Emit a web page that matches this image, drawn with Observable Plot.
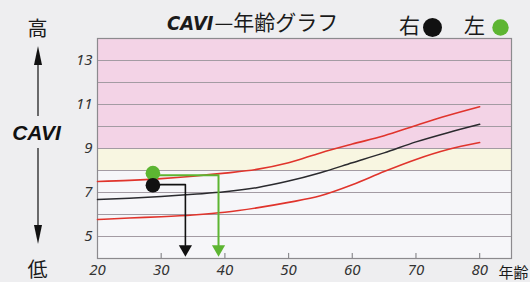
<!DOCTYPE html>
<html><head><meta charset="utf-8">
<script src="https://cdn.jsdelivr.net/npm/d3@7"></script>
<script src="https://cdn.jsdelivr.net/npm/@observablehq/plot@0.6"></script>
<style>
html,body{margin:0;padding:0;background:#eeeef0;}
#chart svg{display:block;}
#chart svg [aria-label="x-axis tick label"] text,
#chart svg [aria-label="y-axis tick label"] text{font-style:italic;}
</style></head><body><div id="chart"></div>
<script>
// ---- data ----
const ages = [20, 25, 30, 35, 40, 45, 50, 55, 60, 65, 70, 75, 80];
const upperValues = [7.5, 7.55, 7.63, 7.74, 7.88, 8.05, 8.35, 8.8, 9.2, 9.58, 10.05, 10.5, 10.9];
const meanValues  = [6.68, 6.74, 6.82, 6.92, 7.03, 7.22, 7.52, 7.9, 8.35, 8.8, 9.3, 9.72, 10.1];
const lowerValues = [5.77, 5.84, 5.9, 5.98, 6.1, 6.3, 6.55, 6.85, 7.35, 7.95, 8.5, 8.95, 9.27];

const xTicks = [20, 30, 40, 50, 60, 70, 80];
const yTicks = [5, 7, 9, 11, 13];
const gridValues = [5, 6, 7, 8, 9, 10, 11, 12, 13];

const bandLow = [9, 8, 4];
const bandHigh = [14, 9, 8];
const bandColors = ["#f3d3e6", "#f8f6e1", "#f6f6f9"];

const sides = ["右", "左"];
const sideColors = ["#111111", "#5db532"];
const patientAge = [28.7, 28.7];
const patientCAVI = [7.33, 7.88];
const readCAVI = [7.36, 7.78];
const readAge = [33.8, 39.0];

// ---- derived tables ----
const yMin = 4, yMax = 14;
const bands = bandLow.map((lo, i) => ({lo, hi: bandHigh[i], color: bandColors[i]}));
const curve = vals => ages.map((a, i) => ({age: a, v: vals[i]}));
const patients = sides.map((s, i) => ({side: s, color: sideColors[i], age: patientAge[i], v: patientCAVI[i]}));
const leaders = sides.map((s, i) => [
  {age: patientAge[i], v: readCAVI[i]},
  {age: readAge[i], v: readCAVI[i]},
  {age: readAge[i], v: yMin + 0.6}
]);
const heads = sides.map((s, i) => ({age: readAge[i], v: yMin + 0.43, color: sideColors[i]}));

const L = 97, T = 38;
const jp = "'Noto Sans CJK JP', 'Noto Sans', sans-serif";
const num = "'Noto Sans', 'Open Sans', sans-serif";

function leftArrows() {
  const g = d3.create("svg:g");
  g.append("line").attr("x1", 38).attr("x2", 38).attr("y1", 62).attr("y2", 116)
    .attr("stroke", "#111").attr("stroke-width", 1.2);
  g.append("path").attr("d", "M38,46 L34,65 L42,65 Z").attr("fill", "#111");
  g.append("line").attr("x1", 38).attr("x2", 38).attr("y1", 148).attr("y2", 228)
    .attr("stroke", "#111").attr("stroke-width", 1.2);
  g.append("path").attr("d", "M38,244 L34,225 L42,225 Z").attr("fill", "#111");
  return g.node();
}

const label = (str, x, y, opts) => Plot.text([str], Object.assign({
  text: d => d, frameAnchor: "top-left", lineAnchor: "middle", textAnchor: "middle",
  dx: x - L, dy: y - T, fill: "#1a1a1a", fontFamily: jp, fontSize: 20
}, opts));

const chart = Plot.plot({
  width: 530,
  height: 282,
  marginLeft: 97,
  marginRight: 19,
  marginTop: 38,
  marginBottom: 24,
  style: {background: "#eeeef0", overflow: "visible"},
  x: {domain: [20, 85]},
  y: {domain: [yMin, yMax]},
  marks: [
    Plot.rect(bands, {y1: "lo", y2: "hi", fill: "color"}),
    Plot.ruleY(gridValues, {stroke: "#a39ba3", strokeWidth: 1.2}),
    Plot.ruleX(xTicks.slice(1), {y1: yMin, y2: yMin + 0.23, stroke: "#8c8c90", strokeWidth: 1.2}),
    Plot.frame({stroke: "#8c8a8e", strokeWidth: 1.2}),
    Plot.line(curve(upperValues), {x: "age", y: "v", stroke: "#e0342c", strokeWidth: 1.6, curve: "monotone-x"}),
    Plot.line(curve(lowerValues), {x: "age", y: "v", stroke: "#e0342c", strokeWidth: 1.6, curve: "monotone-x"}),
    Plot.line(curve(meanValues), {x: "age", y: "v", stroke: "#2a2a2e", strokeWidth: 1.5, curve: "monotone-x"}),
    Plot.line(leaders[1], {x: "age", y: "v", stroke: sideColors[1], strokeWidth: 2}),
    Plot.line(leaders[0], {x: "age", y: "v", stroke: sideColors[0], strokeWidth: 1.6}),
    Plot.dot(heads, {x: "age", y: "v", symbol: "triangle", rotate: 180, r: 4.9, fill: "color", stroke: "none"}),
    Plot.dot([patients[1], patients[0]], {x: "age", y: "v", r: 7.3, fill: "color", stroke: "none"}),
    Plot.axisX(xTicks, {tickSize: 0, tickPadding: 6, fontSize: 15, fill: "#333", fontFamily: num, label: null}),
    Plot.axisY(yTicks, {tickSize: 0, tickPadding: 5, fontSize: 15, fill: "#333", fontFamily: num, label: null}),
    label("年齢", 498, 273, {textAnchor: "start", fontSize: 15}),
    // title
    label("CAVI", 213, 23, {textAnchor: "end", fontSize: 20, fontWeight: "bold", fontStyle: "italic", fontFamily: "'Liberation Sans Narrow', 'DejaVu Sans Condensed', 'Liberation Sans', sans-serif"}),
    label("—年齢グラフ", 214, 23, {textAnchor: "start", fontSize: 21}),
    // legend
    label(sides[0], 409, 26, {fontSize: 21}),
    label(sides[1], 474, 26, {fontSize: 21}),
    Plot.dot([sideColors[0]], {frameAnchor: "top-left", dx: 432 - L, dy: 27 - T, r: 9.5, fill: d => d, stroke: "none"}),
    Plot.dot([sideColors[1]], {frameAnchor: "top-left", dx: 500 - L, dy: 27 - T, r: 8.2, fill: d => d, stroke: "none"}),
    // left annotation
    label("高", 37, 29, {fontSize: 20}),
    label("CAVI", 36, 133, {fontSize: 21, fontWeight: "bold", fontStyle: "italic", fill: "#111", fontFamily: "'Liberation Sans', sans-serif"}),
    label("低", 37, 270, {fontSize: 20}),
    leftArrows
  ]
});
document.getElementById("chart").appendChild(chart);
</script></body></html>
